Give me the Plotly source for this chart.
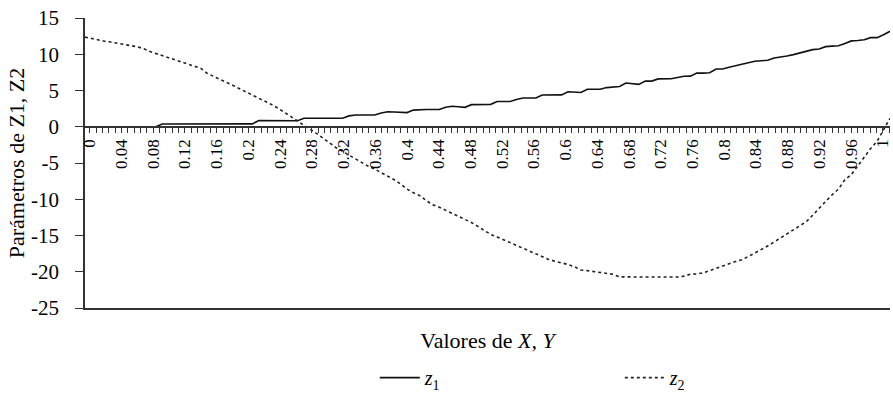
import plotly.graph_objects as go

# Category values on the horizontal axis (step 0.008 from 0 to 1)
x_vals = [round(i * 0.008, 3) for i in range(126)]

z1 = [0, 0, 0, 0, 0, 0, 0, 0, 0, 0, 0, 0,
      0.37, 0.37, 0.37, 0.37, 0.37, 0.37, 0.37, 0.37, 0.37, 0.37, 0.37, 0.37, 0.37, 0.37, 0.4,
      0.87, 0.87, 0.87, 0.87, 0.87, 0.87, 0.83,
      1.17, 1.17, 1.17, 1.17, 1.17, 1.17, 1.17,
      1.5, 1.63, 1.63, 1.63, 1.63,
      1.9, 2.07, 2.03, 2.0, 1.95,
      2.3, 2.37, 2.37, 2.37, 2.37,
      2.7, 2.83, 2.75, 2.68,
      3.05, 3.09, 3.09, 3.09,
      3.49, 3.49, 3.49,
      3.75, 3.97, 3.97, 3.97,
      4.37, 4.37, 4.37, 4.4,
      4.83, 4.78, 4.73,
      5.17, 5.17, 5.17,
      5.4, 5.49, 5.55,
      6.03, 5.9, 5.84,
      6.29, 6.3,
      6.6, 6.6, 6.62,
      6.8, 6.96, 6.98,
      7.4, 7.4, 7.45,
      7.97, 7.97,
      8.2, 8.4, 8.55,
      8.8, 9.03, 9.1, 9.17,
      9.49, 9.6, 9.76,
      9.95, 10.15, 10.4, 10.64,
      10.73, 11.05, 11.12, 11.17,
      11.5, 11.84, 11.9, 12.0,
      12.29, 12.29, 12.7, 13.17]

z2 = [12.37, 12.15, 11.95, 11.8, 11.68, 11.55, 11.4, 11.2, 11.05, 10.8,
      10.4, 10.1, 9.75, 9.45, 9.15, 8.85, 8.55, 8.3, 8.05, 7.35,
      6.95, 6.6, 6.15, 5.7, 5.25, 4.83, 4.4, 3.95, 3.5, 3.05,
      2.55, 2.0, 1.4, 0.8, 0.2, -0.35, -0.95, -1.6, -2.3, -2.9,
      -3.4, -3.9, -4.45, -5.0, -5.45, -5.85, -6.3, -6.85, -7.3, -7.9,
      -8.6, -9.1, -9.5, -10.2, -10.75, -11.1, -11.5, -11.9, -12.35, -12.75,
      -13.2, -13.75, -14.3, -14.85, -15.2, -15.6, -15.95, -16.4, -16.8, -17.2,
      -17.6, -17.95, -18.3, -18.55, -18.75, -19.0, -19.3, -19.75, -19.85, -19.95,
      -20.15, -20.2, -20.35, -20.7, -20.73, -20.73, -20.73, -20.73, -20.73, -20.73,
      -20.73, -20.73, -20.73, -20.6, -20.35, -20.3, -20.15, -19.85, -19.5, -19.2,
      -18.9, -18.6, -18.35, -17.9, -17.45, -16.95, -16.45, -15.9, -15.35, -14.85,
      -14.3, -13.7, -13.1, -12.2, -11.2, -10.3, -9.4, -8.6, -7.3, -6.6,
      -5.4, -4.2, -3.0, -2.0, -0.4, 1.17]

tick_vals = [round(i * 0.04, 2) for i in range(26)]
tick_text = ["0" if v == 0 else ("1" if v == 1 else f"{v:g}") for v in tick_vals]
y_ticks = [15, 10, 5, 0, -5, -10, -15, -20, -25]
y_text = [str(v) for v in y_ticks]  # plain hyphen-minus, as in the reference

FONT = "Liberation Serif"
AX = "#333333"

fig = go.Figure()
fig.add_trace(go.Scatter(x=x_vals, y=z1, mode="lines", name="<i>z</i><sub>1</sub>",
                         xaxis="x", yaxis="y",
                         line=dict(color="#111111", width=1.6, dash="solid")))
fig.add_trace(go.Scatter(x=x_vals, y=z2, mode="lines", name="<i>z</i><sub>2</sub>",
                         xaxis="x", yaxis="y",
                         line=dict(color="#222222", width=1.6, dash="dot")))
# empty helper trace so the crossing (y = 0) label axis is drawn
fig.add_trace(go.Scatter(x=[], y=[], xaxis="x2", yaxis="y", showlegend=False,
                         hoverinfo="skip"))

fig.update_layout(
    width=893, height=400,
    margin=dict(l=85, r=3, t=18, b=82),
    paper_bgcolor="white", plot_bgcolor="white",
    font=dict(family=FONT, size=18, color="black"),
    showlegend=True,
    legend=dict(orientation="h", x=0.36, xanchor="left", y=-0.24, yanchor="middle",
                entrywidth=190, entrywidthmode="pixels",
                font=dict(family=FONT, size=20, color="black"),
                bgcolor="rgba(0,0,0,0)", itemwidth=40),
    xaxis=dict(range=[0, 1], showgrid=False, zeroline=False, showline=True,
               linecolor=AX, linewidth=1.5, showticklabels=False, ticks="",
               automargin=False,
               title=dict(text="Valores de <i>X, Y</i>", standoff=24,
                          font=dict(family=FONT, size=22, color="black"))),
    xaxis2=dict(range=[-0.006, 1.009], overlaying="x", anchor="free", position=0.625,
                showgrid=False, zeroline=False, showline=True, linecolor=AX, linewidth=1.5,
                tickmode="array", tickvals=tick_vals, ticktext=tick_text, tickangle=-90,
                ticks="outside", ticklen=5, tickwidth=1.2, tickcolor=AX,
                ticklabeloverflow="allow",
                tickfont=dict(family=FONT, size=17, color="black"), automargin=False,
                minor=dict(dtick=0.008, tick0=0, ticks="outside", ticklen=5, tickwidth=1.2,
                           tickcolor=AX, showgrid=False)),
    yaxis=dict(range=[-25, 15], showgrid=False, zeroline=False, showline=True,
               linecolor=AX, linewidth=1.5, tickmode="array", tickvals=y_ticks, ticktext=y_text,
               ticks="outside", ticklen=8, tickwidth=1.2, tickcolor=AX, automargin=False,
               ticklabelstandoff=12,
               tickfont=dict(family=FONT, size=21, color="black"),
               title=dict(text="Parámetros de Z1, Z2", standoff=0,
                          font=dict(family=FONT, size=22, color="black"))),
)

# Keep the page exactly the window's size with the figure pinned at its top-left corner.
page_css = ("var s=document.createElement('style');"
            "s.innerHTML='html,body{margin:0;padding:0;width:893px;height:400px;overflow:hidden;}"
            "body>div{position:fixed;top:0;left:0;width:893px;height:400px;overflow:hidden;}';"
            "document.head.appendChild(s);")
fig.write_html("out.html", config={"displayModeBar": False}, post_script=page_css)
